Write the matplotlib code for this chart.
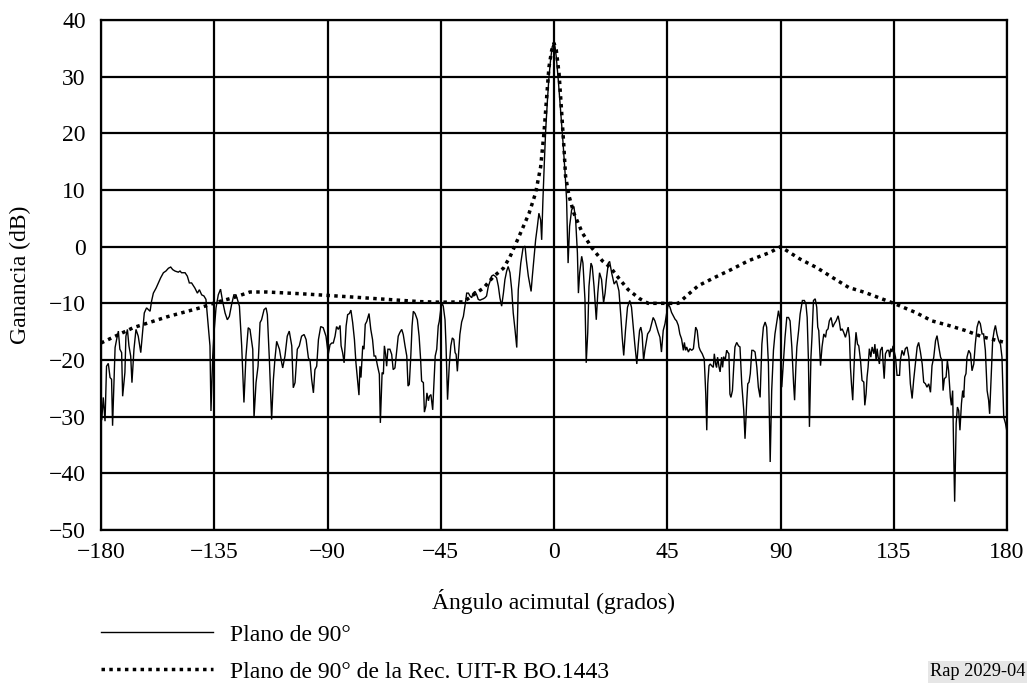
import matplotlib
matplotlib.use("Agg")
import matplotlib.pyplot as plt

plt.rcParams['font.family'] = ['Liberation Serif', 'DejaVu Serif']
plt.rcParams['axes.unicode_minus'] = True

# Measured pattern "Plano de 90°"
meas_x = [
    -179.7, -179.1, -178.4, -177.8, -177.1, -176.4, -175.8, -175.4, -174.4, -173.8,
    -173.1, -172.5, -171.8, -171.4, -170.5, -170.1, -169.5, -168.9, -168.2, -167.7,
    -166.9, -166.1, -165.2, -164.2, -163.4, -162.8, -161.9, -160.5, -159.9, -159.2,
    -158.1, -157.2, -156.3, -155.2, -154.2, -153.2, -152.3, -151.5, -150.6, -149.3,
    -148.6, -148.0, -146.6, -145.7, -144.9, -144.0, -142.7, -141.7, -140.9, -140.0,
    -139.1, -138.3, -137.4, -136.7, -136.3, -135.6, -135.1, -134.3, -133.4, -132.5,
    -131.7, -130.7, -129.8, -129.0, -128.1, -127.2, -126.4, -125.8, -125.0, -124.1,
    -123.2, -122.4, -121.5, -120.8, -119.7, -119.2, -118.4, -117.6, -116.8, -116.2,
    -115.2, -114.4, -113.9, -113.1, -112.2, -111.5, -110.9, -110.2, -109.1, -108.2,
    -107.8, -106.9, -106.0, -105.2, -104.2, -103.6, -102.9, -102.0, -101.2, -100.3,
    -99.3, -98.5, -97.6, -96.9, -96.3, -95.6, -95.0, -94.3, -93.6, -92.7,
    -91.7, -90.6, -89.7, -89.0,
    -88.3, -87.7, -87.0, -86.4, -85.7, -85.0, -84.6, -84.0, -83.4, -82.6,
    -82.0, -81.3, -80.7, -80.0, -79.3, -78.7, -78.1, -77.5, -77.1, -76.7,
    -76.0, -75.5, -75.0, -74.4, -73.5, -72.8, -72.1, -71.5, -70.9, -70.1,
    -69.4, -69.0, -68.3, -67.8, -67.4, -66.9, -66.5, -66.0, -65.2, -64.5,
    -63.9, -63.2, -62.5, -61.9, -61.2, -60.5, -59.9, -59.2, -58.5, -58.0,
    -57.5, -56.9, -56.4, -55.9, -55.2, -54.3, -53.6, -53.0, -52.6, -51.9,
    -51.5, -50.9, -50.5, -49.9, -49.5, -48.9, -48.2, -47.7, -47.2, -46.6,
    -46.0, -45.6, -45.0, -44.5, -44.0, -43.3, -42.9, -42.3, -41.6, -41.0,
    -40.4, -39.8, -39.3, -38.9, -38.4, -38.0, -37.4, -36.7, -36.0, -35.6,
    -35.1, -34.7, -34.0, -33.4, -32.7, -32.1, -31.4, -30.7, -30.1, -29.4,
    -28.7, -28.1, -27.4, -26.8, -26.1, -25.4, -24.8, -24.1, -23.4, -22.8,
    -22.1, -21.5, -20.8, -20.1, -19.5, -18.8, -18.2, -17.5, -16.8, -16.2,
    -15.5, -14.8,
    -14.2, -13.2, -12.3, -11.5, -11.0, -10.2, -9.1, -8.6, -7.9, -7.3,
    -6.6, -6.0, -5.3, -4.9, -4.4, -3.8, -3.3, -2.6, -2.0, -1.3,
    -0.7, -0.1, 0.4, 0.9, 1.7, 2.6, 3.6, 4.4, 5.0, 5.6,
    6.2, 7.0, 7.9, 8.6, 9.3, 9.7, 10.2, 11.0, 11.5, 12.3,
    12.8, 13.4, 13.9, 14.7, 15.2, 15.9, 16.8, 17.4, 18.1, 18.9,
    19.7, 20.3, 20.8, 21.6, 22.1, 22.9,
    23.9, 24.8, 25.8, 26.6, 27.1, 27.7, 28.4, 29.2, 30.1, 30.8,
    31.5, 32.1, 32.9, 33.5, 34.0, 34.5, 35.0, 35.6, 36.1, 37.2,
    38.1, 38.8, 39.4, 40.1, 40.8, 41.4, 42.1, 42.7, 43.4, 44.1,
    44.7, 45.4, 46.1, 46.7, 47.4, 48.1, 48.7, 49.4, 50.0, 50.7,
    51.4, 51.8, 52.3, 52.7, 53.4, 54.0, 54.7, 55.4, 56.3, 56.9,
    57.6, 58.1, 58.9, 59.7, 60.3, 60.7, 61.1, 61.6, 62.1, 62.6,
    63.3, 63.7, 64.2, 64.6, 65.0, 65.6, 66.0, 66.6, 67.0, 67.4,
    68.0, 68.6, 69.0, 69.5, 69.9, 70.3, 70.9, 71.4, 71.9, 72.6,
    73.3, 73.9, 74.6, 75.4, 75.9, 76.6, 77.0, 77.5, 78.0, 78.6,
    79.2, 79.9, 80.6, 81.2, 81.9, 82.6, 83.2, 83.9, 84.5, 85.2,
    85.9, 86.5, 87.2, 87.8, 88.5, 89.2, 89.9, 90.5, 91.2, 91.8,
    92.5, 93.2, 93.8, 94.5, 95.2, 95.6, 96.1, 96.5, 97.2, 97.8,
    98.7, 99.5, 100.1, 100.6, 101.1, 101.5, 102.1, 102.5, 103.1, 103.8,
    104.4, 104.8,
    105.2, 105.9, 106.5, 107.2, 107.9, 108.3, 108.9, 109.4, 110.1, 110.8,
    111.4, 112.1, 112.9, 113.4, 113.9, 114.5, 115.1, 115.8, 116.5, 116.9,
    117.4, 117.8, 118.2, 118.7, 119.1, 119.5, 120.0, 120.6, 121.1, 121.8,
    122.4, 123.1, 123.5, 124.0, 124.4, 124.8, 125.3, 125.9, 126.4, 127.1,
    127.5, 128.0, 128.4, 128.8, 129.3, 129.7, 130.4, 130.8, 131.2, 131.7,
    132.4, 133.0, 133.4, 133.8, 134.3, 134.7, 135.1, 135.7, 136.3, 137.3,
    137.6, 138.3, 139.0, 139.6, 140.3, 141.0, 141.6, 142.3, 142.9, 143.6,
    144.3, 144.9, 145.6, 146.3, 146.9, 147.6, 148.2, 148.9, 149.6, 150.2,
    150.9, 151.6, 152.2, 152.9, 153.6, 154.2, 154.6, 155.1, 155.8, 156.3,
    156.8, 157.5, 157.9, 158.4, 158.8, 159.2, 159.8, 160.3, 160.8, 161.3,
    161.9, 162.4, 162.8, 163.2, 163.7, 164.1, 164.8, 165.5, 166.1, 166.8,
    167.4, 168.1, 168.8, 169.4, 170.1, 170.7, 171.4, 172.1, 172.7, 173.1,
    173.8, 174.3, 174.9, 175.4, 176.0, 176.7, 177.4, 178.0, 178.7, 179.4,
    180.0,
]
meas_db = [
    -30.5, -26.6, -30.8, -21.1, -20.6, -23.1, -23.4, -31.6, -17.8, -16.4,
    -14.9, -18.1, -18.7, -26.4, -22.2, -15.8, -14.6, -17.5, -19.3, -24.0,
    -18.1, -14.6, -15.8, -18.7, -14.6, -11.7, -10.8, -11.4, -9.6, -8.2,
    -7.3, -6.4, -5.5, -4.6, -4.3, -3.8, -3.6, -4.05, -4.3, -4.5,
    -4.3, -4.6, -4.6, -5.2, -6.4, -6.4, -7.3, -8.2, -7.6, -8.5,
    -8.7, -9.3, -14.0, -17.5, -29.0, -19.3, -15.2, -10.8, -8.5, -7.5,
    -9.6, -11.7, -12.9, -12.3, -10.2, -8.5, -8.5, -9.3, -10.5, -17.5,
    -27.5, -19.3, -14.3, -14.6, -18.1, -30.2, -24.0, -21.1, -13.4, -12.9,
    -11.1, -10.8, -12.0, -19.9, -30.5, -23.4, -19.9, -16.7, -18.1, -20.5,
    -21.4, -19.3, -15.8, -14.9, -17.5, -24.9, -24.0, -18.1, -17.5, -15.8,
    -15.5, -16.4, -19.6, -20.2, -23.4, -25.8, -21.7, -21.1, -16.4, -14.1,
    -14.3, -15.8, -19.0, -17.3,
    -17.0, -17.0, -15.8, -14.1, -14.6, -13.9, -17.5, -18.7, -20.5, -14.0,
    -12.0, -11.8, -11.2, -13.4, -16.4, -20.5, -23.4, -26.2, -21.1, -23.1,
    -17.5, -18.1, -13.7, -13.2, -11.8, -14.6, -16.4, -19.3, -19.3, -21.1,
    -22.5, -31.1, -22.2, -22.5, -17.5, -19.0, -21.1, -18.1, -18.1, -19.0,
    -21.7, -21.4, -18.4, -15.8, -15.1, -14.6, -15.5, -17.5, -19.3, -24.6,
    -24.3, -19.3, -14.0, -11.4, -11.8, -12.9, -15.8, -19.9, -23.7, -24.0,
    -29.2, -28.1, -25.8, -27.2, -26.4, -26.1, -28.8, -24.0, -19.3, -18.1,
    -14.0, -13.2, -11.1, -9.9, -10.5, -12.9, -17.5, -27.0, -20.8, -17.5,
    -16.1, -16.4, -18.7, -19.0, -22.0, -19.3, -15.5, -13.3, -12.3, -11.1,
    -9.6, -8.2, -8.2, -8.7, -9.0, -8.2, -7.9, -8.5, -9.3, -9.45,
    -9.3, -9.2, -9.0, -8.7, -7.0, -6.1, -5.2, -5.0, -5.2, -5.5,
    -7.0, -9.0, -10.5, -8.2, -5.8, -4.3, -3.5, -4.6, -7.6, -11.7,
    -14.6, -17.8,
    -7.6, -2.9, -0.2, 0.1, -2.3, -5.2, -7.9, -5.2, -1.7, 1.2,
    3.6, 5.9, 4.7, 1.2, 8.3, 15.3, 20.6, 25.9, 30.0, 33.2,
    35.3, 35.9, 35.3, 33.5, 29.4, 24.1, 18.3, 13.0, 8.3, -2.9,
    3.6, 6.5, 7.1, 4.7, -1.1, -8.2, -4.6, -1.7, -2.9, -9.3,
    -20.5, -15.2, -7.0, -2.9, -3.5, -7.0, -12.9, -8.2, -4.6, -5.8,
    -9.9, -8.2, -5.8, -2.9, -2.6, -4.6,
    -6.6, -6.0, -7.8, -12.5, -16.0, -19.2, -14.8, -10.7, -9.5, -10.7,
    -14.2, -17.2, -20.7, -17.2, -14.8, -14.2, -15.4, -20.1, -18.3, -15.4,
    -14.8, -13.6, -12.5, -13.1, -14.2, -15.1, -16.0, -18.6, -14.8, -13.6,
    -11.9, -10.1, -10.7, -11.6, -12.2, -12.8, -13.1, -13.9, -15.4, -16.3,
    -18.3, -16.9, -18.3, -17.7, -18.6, -18.0, -18.3, -18.0, -14.2, -14.8,
    -17.7, -18.3, -18.9, -19.8, -26.0, -32.4, -24.2, -21.0, -20.7, -21.0,
    -21.3, -18.9, -20.7, -21.3, -19.5, -21.3, -22.1, -19.5, -21.3, -19.4,
    -20.1, -18.3, -18.6, -18.9, -26.0, -26.6, -25.4, -21.3, -17.7, -16.9,
    -17.5, -17.7, -24.2, -28.9, -33.9, -27.2, -24.2, -23.9, -22.4, -18.3,
    -18.3, -18.6, -21.3, -24.8, -26.6, -17.2, -14.2, -13.3, -14.2, -20.7,
    -38.0, -25.4, -18.3, -15.4, -13.3, -11.3, -13.1, -24.8, -20.1, -16.0,
    -12.5, -12.5, -13.1, -17.7, -24.2, -27.1, -21.3, -17.7, -14.8, -11.9,
    -9.5, -9.5, -10.1, -12.5, -20.1, -31.8, -19.5, -16.0, -9.5, -9.2,
    -10.7, -14.2,
    -14.8, -21.0, -17.7, -15.4, -16.0, -14.8, -14.5, -13.1, -12.5, -14.2,
    -13.6, -13.1, -12.2, -13.3, -14.8, -14.5, -15.1, -16.0, -14.8, -14.2,
    -16.0, -21.3, -24.2, -27.1, -22.4, -18.3, -15.1, -17.2, -17.5, -20.1,
    -23.6, -23.9, -28.0, -26.0, -23.0, -21.3, -18.0, -19.5, -17.7, -18.9,
    -17.2, -20.1, -18.0, -19.5, -20.7, -18.3, -17.7, -20.7, -23.3, -18.9,
    -18.3, -18.3, -19.5, -18.0, -18.6, -17.5, -18.3, -19.5, -22.7, -22.7,
    -20.1, -18.3, -19.2, -18.0, -17.7, -19.5, -24.2, -26.8, -23.6, -20.7,
    -17.7, -16.9, -18.6, -20.7, -23.9, -24.2, -24.8, -24.2, -25.7, -21.0,
    -19.5, -16.6, -15.7, -17.7, -19.5, -20.1, -25.4, -23.3, -23.0, -20.1,
    -21.9, -26.6, -28.0, -25.4, -35.9, -45.0, -31.2, -28.3, -28.9, -32.4,
    -27.7, -25.4, -26.6, -23.0, -22.4, -19.5, -18.3, -18.9, -21.9, -20.7,
    -17.2, -14.2, -13.1, -13.6, -15.4, -15.4, -18.3, -25.4, -27.1, -29.5,
    -21.9, -16.6, -14.8, -13.9, -15.4, -16.6, -17.2, -19.5, -30.1, -31.2,
    -32.7,
]

# Reference pattern "Rec. UIT-R BO.1443"
ref_x = [-180, -167.2, -153.9, -140.7, -134.7, -127.4, -120.8, -114.2, -100.9, -90,
         -79.7, -66.5, -53.2, -45, -36, -32, -28, -24.1, -20.1, -17.5,
         -13.9, -9.9, -7.3, -5.3, -4.0, -3.0, -2.0, -0.9, 0, 0.9,
         2.0, 2.9, 4.0, 4.6, 6.0, 7.9, 11.3, 15.2, 19.2, 22.5,
         25.8, 29.5, 34.1, 37.4, 45, 49.4, 53.4, 57.3, 64, 70.6,
         77.2, 85.9, 90, 97.8, 104.4, 110.5, 117.1, 123.7, 135, 143.6,
         150.2, 156.8, 163.5, 170.1, 180]
ref_db = [-17.0, -14.3, -12.4, -10.8, -9.9, -9.0, -8.0, -8.0, -8.3, -8.6,
          -8.9, -9.3, -9.7, -9.8, -9.75, -8.5, -7.3, -5.3, -3.8, -1.8,
          1.8, 5.9, 9.5, 14.1, 20.0, 25.9, 31.7, 34.7, 35.9, 34.7,
          30.6, 24.7, 17.1, 12.4, 8.9, 5.9, 2.4, -0.3, -2.5, -3.7,
          -5.6, -7.6, -9.2, -10, -10, -10, -8.4, -6.9, -5.4, -4.0,
          -2.5, -1.0, 0, -2.2, -3.7, -5.4, -7.2, -8.1, -10, -11.6,
          -13.1, -13.9, -14.8, -15.9, -17.0]

x_ticks = [-180, -135, -90, -45, 0, 45, 90, 135, 180]
y_ticks = [-50, -40, -30, -20, -10, 0, 10, 20, 30, 40]

W, H = 1031, 684
fig = plt.figure(figsize=(W / 100, H / 100), dpi=100)
ax = fig.add_axes([101 / W, 1 - 530 / H, (1007 - 101) / W, (530 - 20) / H])

FS = 17
l1, = ax.plot(meas_x, meas_db, color='black', lw=1.0, solid_joinstyle='miter')
l2, = ax.plot(ref_x, ref_db, color='black', lw=2.5, linestyle=(0, (1.0, 1.25)),
              dash_capstyle='butt')

ax.set_xlim(-180, 180)
ax.set_ylim(-50, 40)
ax.set_xticks(x_ticks)
ax.set_yticks(y_ticks)
ax.grid(True, color='black', lw=1.6)
ax.set_axisbelow(True)
for s in ax.spines.values():
    s.set_linewidth(1.6)
ax.tick_params(length=0, labelsize=FS)
ax.tick_params(axis='x', pad=9)
ax.tick_params(axis='y', pad=11)

ax.set_xlabel('Ángulo acimutal (grados)', fontsize=FS, labelpad=18)
ax.set_ylabel('Ganancia (dB)', fontsize=FS, labelpad=13)

leg = fig.legend([l1, l2], ['Plano de 90°', 'Plano de 90° de la Rec. UIT-R BO.1443'],
                 loc='upper left', bbox_to_anchor=(101 / W, 1 - 624 / H),
                 frameon=False, fontsize=FS, handlelength=4.75, handletextpad=0.72,
                 labelspacing=0.66, borderaxespad=0, borderpad=0)

fig.text(1025 / W, 1 - 672 / H, 'Rap 2029-04', fontsize=13.2, ha='right', va='center',
         bbox=dict(facecolor='#e6e6e6', edgecolor='none', pad=1.5))

fig.savefig('out.png', dpi=100)
